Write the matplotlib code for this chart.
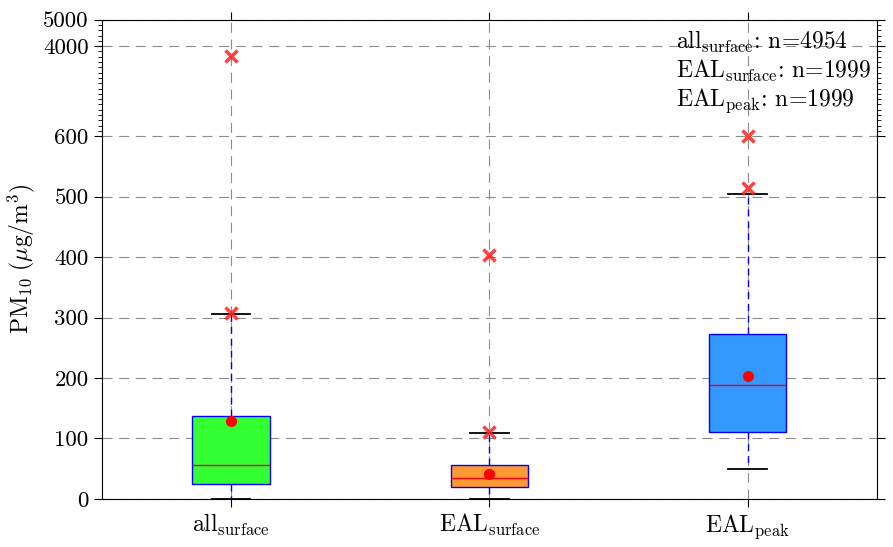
import numpy as np
import matplotlib
matplotlib.use('Agg')
from matplotlib import pyplot as plt
from matplotlib.ticker import FixedLocator

plt.rcParams['font.family'] = 'serif'
plt.rcParams['font.serif'] = ['cmr10', 'DejaVu Serif']
plt.rcParams['mathtext.fontset'] = 'cm'
plt.rcParams['axes.formatter.use_mathtext'] = True

# donnees
noms = [r'$\mathrm{all}_{\mathrm{surface}}$', r'$\mathrm{EAL}_{\mathrm{surface}}$', r'$\mathrm{EAL}_{\mathrm{peak}}$']
effectifs = [4954, 1999, 1999]
q1 = [25, 19, 110]
mediane = [56, 34, 188]
q3 = [137, 56, 273]
moyenne = [129, 41, 203]
moust_bas = [0, 0, 49]
moust_haut = [306, 109, 504]
extremes = [[307, 3630], [111, 404], [515, 601]]
couleurs = ['#33ff33', '#ff9933', '#3399ff']

# echelle coupee : lineaire jusqu'a 600 puis compressee
K = 0.0438
def fwd(y):
    y = np.asarray(y, dtype=float)
    return np.where(y <= 600, y, 600 + (y - 600) * K)
def inv(t):
    t = np.asarray(t, dtype=float)
    return np.where(t <= 600, t, 600 + (t - 600) / K)

fig = plt.figure(figsize=(8.93, 5.47), dpi=100)
ax = fig.add_axes([0.114, 0.088, 0.868, 0.876])
ax.set_yscale('function', functions=(fwd, inv))

stats = []
for i in range(3):
    stats.append(dict(med=mediane[i], q1=q1[i], q3=q3[i], mean=moyenne[i],
                      whislo=moust_bas[i], whishi=moust_haut[i], fliers=extremes[i]))

bp = ax.bxp(stats, positions=[1, 2, 3], widths=0.3, patch_artist=True, showmeans=True,
            boxprops=dict(edgecolor='blue', linewidth=1),
            whiskerprops=dict(color='blue', linestyle=(0, (5, 3.5)), linewidth=1),
            capprops=dict(color='black', linewidth=1.3),
            medianprops=dict(color='red', linewidth=1),
            meanprops=dict(marker='o', markerfacecolor='red', markeredgecolor='red', markersize=7),
            flierprops=dict(marker='x', markeredgecolor='#ff2020', markersize=9, markeredgewidth=2.5, alpha=0.85))
for b, c in zip(bp['boxes'], couleurs):
    b.set_facecolor(c)

ax.set_xlim(0.5, 3.5)
ax.set_ylim(0, 5000)
ax.set_xticks([1, 2, 3])
ax.set_xticklabels(noms, fontsize=17)
ax.yaxis.set_major_locator(FixedLocator([0, 100, 200, 300, 400, 500, 600, 4000, 5000]))
ax.yaxis.set_minor_locator(FixedLocator(np.arange(800, 5000, 200)))
ax.set_yticklabels(['0', '100', '200', '300', '400', '500', '600', '4000', '5000'], fontsize=16.5)
ax.tick_params(which='both', direction='out', top=True, right=True)
ax.tick_params(which='major', length=6)
ax.tick_params(which='minor', length=3)
ax.grid(True, which='major', color='0.55', linestyle=(0, (9, 6)), linewidth=0.8)
ax.set_ylabel(r'$\mathrm{PM}_{10}\ (\mu\mathrm{g/m}^3)$', fontsize=17)

lignes = [r'$\mathrm{all}_{\mathrm{surface}}$: n=' + str(effectifs[0]),
          r'$\mathrm{EAL}_{\mathrm{surface}}$: n=' + str(effectifs[1]),
          r'$\mathrm{EAL}_{\mathrm{peak}}$: n=' + str(effectifs[2])]
for k, t in enumerate(lignes):
    ax.text(0.741, 0.953 - k * 0.061, t, transform=ax.transAxes, fontsize=17, va='center', ha='left')

fig.savefig('out.png', dpi=100)
